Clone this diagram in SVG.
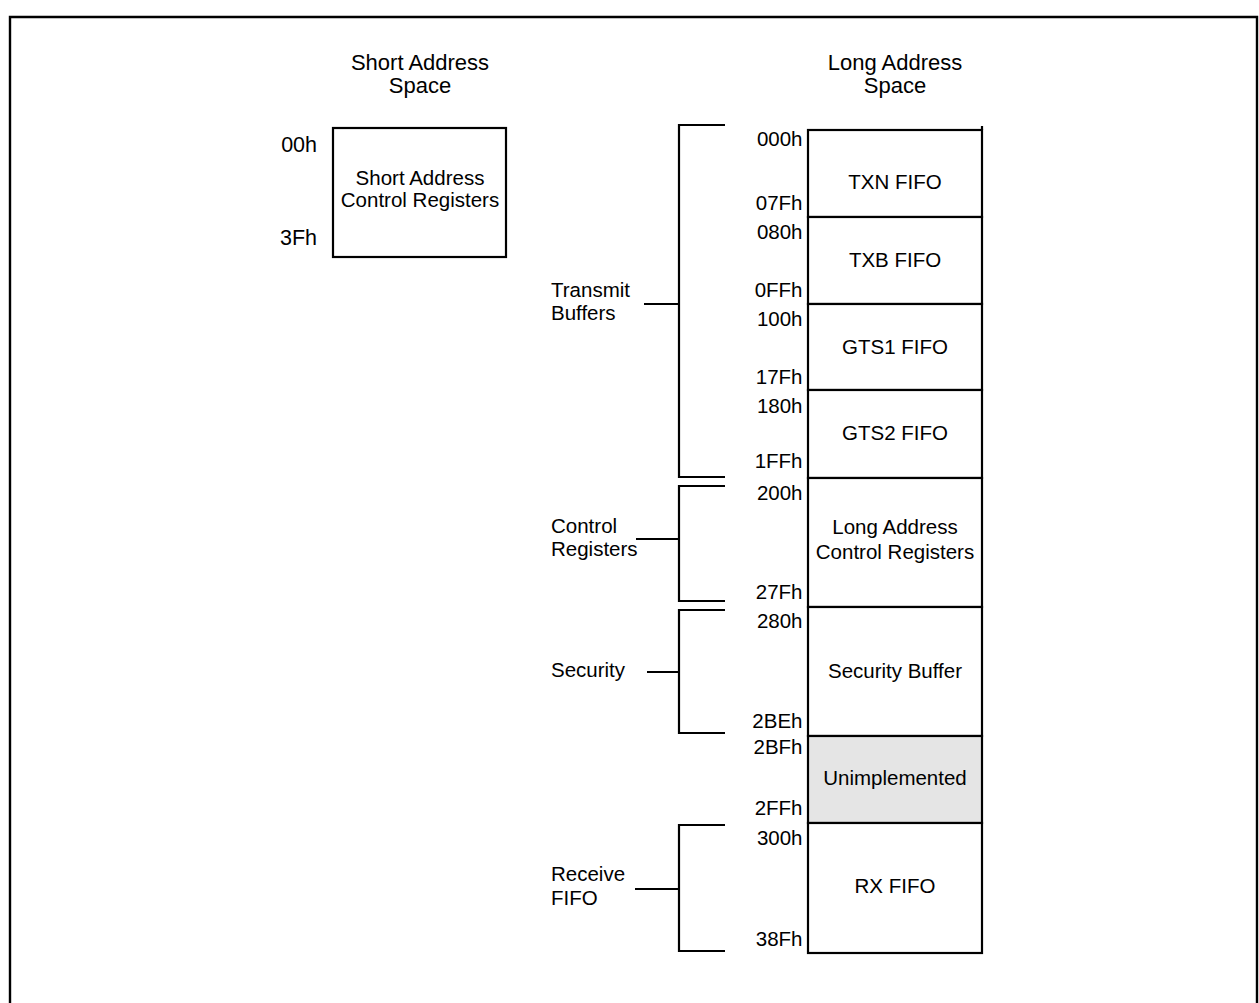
<svg xmlns="http://www.w3.org/2000/svg" width="1259" height="1003" viewBox="0 0 1259 1003">
<style>
text{font-family:"Liberation Sans",Arial,sans-serif;fill:#000}
.t{font-size:22px;text-anchor:middle}
.b{font-size:20.5px;text-anchor:middle}
.a{font-size:20.5px;text-anchor:end}
.sa{font-size:21.5px;text-anchor:end}
.l{font-size:20.5px}
.box{fill:#fff;stroke:#000;stroke-width:2.2}
.br{fill:none;stroke:#000;stroke-width:2.2}
</style>
<rect width="1259" height="1003" fill="#fff"/>
<path d="M10,1010 V17 H1257 V1010" fill="none" stroke="#000" stroke-width="2.4"/>

<g id="titles">
<text class="t" x="420" y="70">Short Address</text>
<text class="t" x="420" y="92.5">Space</text>
<text class="t" x="895" y="70">Long Address</text>
<text class="t" x="895" y="92.5">Space</text>
</g>

<g id="short-regs">
<rect class="box" x="333" y="128" width="173" height="129"/>
<text class="b" x="420" y="185">Short Address</text>
<text class="b" x="420" y="206.5">Control Registers</text>
<text class="sa" x="317" y="152">00h</text>
<text class="sa" x="317" y="245">3Fh</text>
</g>

<g id="txn">
<rect class="box" x="808" y="130" width="174" height="87"/>
<line x1="982" y1="126" x2="982" y2="130" stroke="#000" stroke-width="2.2"/>
<text class="b" x="895" y="189">TXN FIFO</text>
<text class="a" x="802.5" y="145.5">000h</text>
<text class="a" x="802.5" y="209.5">07Fh</text>
</g>
<g id="txb">
<rect class="box" x="808" y="217" width="174" height="87"/>
<text class="b" x="895" y="266.5">TXB FIFO</text>
<text class="a" x="802.5" y="238.5">080h</text>
<text class="a" x="802.5" y="297">0FFh</text>
</g>
<g id="gts1">
<rect class="box" x="808" y="304" width="174" height="86"/>
<text class="b" x="895" y="354">GTS1 FIFO</text>
<text class="a" x="802.5" y="326">100h</text>
<text class="a" x="802.5" y="383.5">17Fh</text>
</g>
<g id="gts2">
<rect class="box" x="808" y="390" width="174" height="88"/>
<text class="b" x="895" y="440">GTS2 FIFO</text>
<text class="a" x="802.5" y="413">180h</text>
<text class="a" x="802.5" y="468">1FFh</text>
</g>
<g id="long-regs">
<rect class="box" x="808" y="478" width="174" height="129"/>
<text class="b" x="895" y="534">Long Address</text>
<text class="b" x="895" y="559">Control Registers</text>
<text class="a" x="802.5" y="500">200h</text>
<text class="a" x="802.5" y="598.5">27Fh</text>
</g>
<g id="security">
<rect class="box" x="808" y="607" width="174" height="129"/>
<text class="b" x="895" y="678">Security Buffer</text>
<text class="a" x="802.5" y="627.5">280h</text>
<text class="a" x="802.5" y="727.5">2BEh</text>
</g>
<g id="unimpl">
<rect class="box" x="808" y="736" width="174" height="87" style="fill:#e5e5e5"/>
<text class="b" x="895" y="785">Unimplemented</text>
<text class="a" x="802.5" y="753.5">2BFh</text>
<text class="a" x="802.5" y="815">2FFh</text>
</g>
<g id="rx">
<rect class="box" x="808" y="823" width="174" height="130"/>
<text class="b" x="895" y="893">RX FIFO</text>
<text class="a" x="802.5" y="845">300h</text>
<text class="a" x="802.5" y="946">38Fh</text>
</g>

<g id="group-labels">
<text class="l" x="551" y="297">Transmit</text>
<text class="l" x="551" y="320">Buffers</text>
<text class="l" x="551" y="532.5">Control</text>
<text class="l" x="551" y="555.5">Registers</text>
<text class="l" x="551" y="677">Security</text>
<text class="l" x="551" y="881">Receive</text>
<text class="l" x="551" y="905">FIFO</text>
</g>

<g id="connectors">
<path class="br" d="M725,125 H679 V477 H725 M644,304 H679"/>
<path class="br" d="M725,486 H679 V601 H725 M636,539 H679"/>
<path class="br" d="M725,610 H679 V733 H725 M647,672 H679"/>
<path class="br" d="M725,825 H679 V951 H725 M635,889 H679"/>
</g>
</svg>
